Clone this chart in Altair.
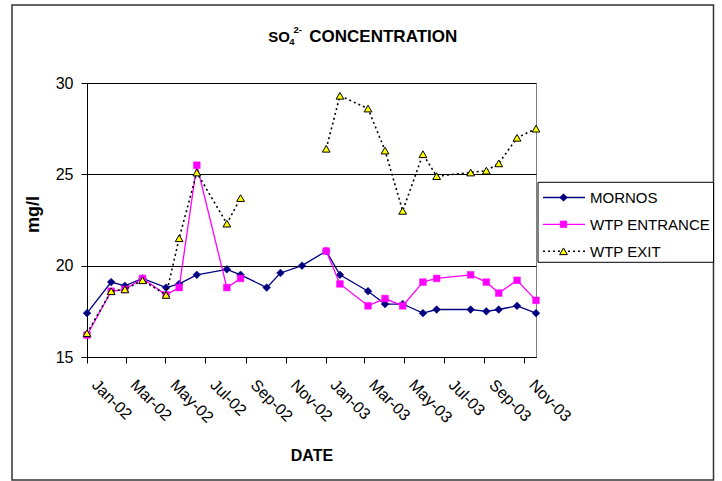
import altair as alt
import pandas as pd

# ---------------- data ----------------
dates = ["2002-01-01", "2002-02-07", "2002-02-28", "2002-03-27", "2002-05-02",
         "2002-05-22", "2002-06-18", "2002-08-03", "2002-08-24", "2002-10-03",
         "2002-10-24", "2002-11-26", "2003-01-02", "2003-01-23", "2003-03-07",
         "2003-04-02", "2003-04-29", "2003-05-30", "2003-06-20", "2003-08-11",
         "2003-09-04", "2003-09-23", "2003-10-21", "2003-11-19"]
mornos = [17.4, 19.1, 18.9, 19.3, 18.8, 19.0, 19.5, 19.8, 19.5, 18.8, 19.6, 20.0,
          20.8, 19.5, 18.6, 17.9, 17.9, 17.4, 17.6, 17.6, 17.5, 17.6, 17.8, 17.4]
wtp_entrance = [16.2, 18.6, 18.7, 19.3, 18.4, 18.8, 25.5, 18.8, 19.3, None, None, None,
                20.8, 19.0, 17.8, 18.2, 17.8, 19.1, 19.3, 19.5, 19.1, 18.5, 19.2, 18.1]
wtp_exit = [16.3, 18.6, 18.7, 19.2, 18.4, 21.5, 25.1, 22.3, 23.7, None, None, None,
            26.4, 29.3, 28.6, 26.3, 23.0, 26.1, 24.9, 25.1, 25.2, 25.6, 27.0, 27.5]
series_names = ["MORNOS", "WTP ENTRANCE", "WTP EXIT"]
y_tick_values = [15, 20, 25, 30]
x_tick_months = [(2002, 1), (2002, 3), (2002, 5), (2002, 7), (2002, 9), (2002, 11),
                 (2003, 1), (2003, 3), (2003, 5), (2003, 7), (2003, 9), (2003, 11)]
title_parts = ["SO", "4", "2-", "CONCENTRATION"]
x_title = "DATE"
y_title = "mg/l"

FONT = "Liberation Sans"
W, H = 449, 274
OX, OY = 87, 83


def px(v):
    return v - OX


def py(v):
    return v - OY


rows = []
for name, vals in zip(series_names, [mornos, wtp_entrance, wtp_exit]):
    for d, v in zip(dates, vals):
        rows.append({"date": d, "series": name, "value": v})
df = pd.DataFrame(rows)
one = pd.DataFrame({"k": [0]})

x_enc = alt.X(
    "date:T",
    scale=alt.Scale(type="utc", nice=False,
                    domain=[alt.DateTime(year=2002, month=1, date=1, utc=True),
                            alt.DateTime(year=2003, month=11, date=19, utc=True)]),
    axis=alt.Axis(values=[alt.DateTime(year=yy, month=mm, date=1, utc=True) for yy, mm in x_tick_months],
                  format="%b-%y", labelAngle=45, labelAlign="left", labelBaseline="middle",
                  labelPadding=19, labelOffset=7, tickSize=6, grid=False,
                  labelOverlap=False, labelFlush=False, labelBound=False,
                  domainColor="black", tickColor="black",
                  title=x_title, titleX=W / 2, titleY=103, titleBaseline="alphabetic",
                  titleAlign="center"),
)
y_enc = alt.Y(
    "value:Q",
    scale=alt.Scale(domain=[15, 30], nice=False, zero=False),
    axis=alt.Axis(values=y_tick_values, tickSize=6, labelPadding=8, grid=True,
                  gridColor="black", domainColor="black", tickColor="black",
                  title=y_title, titleX=-45, titleY=131, titleFontSize=18),
)

styles = {
    "MORNOS": (dict(color="#000080", strokeWidth=1.3),
               dict(shape="diamond", fill="#000080", stroke="#000080", strokeWidth=0.5, size=60)),
    "WTP ENTRANCE": (dict(color="#FF00FF", strokeWidth=1.3),
                     dict(shape="square", fill="#FF00FF", stroke="#FF00FF", strokeWidth=0.5, size=45)),
    "WTP EXIT": (dict(color="black", strokeWidth=1.6, strokeDash=[2, 3]),
                 dict(shape="triangle-up", fill="#FFFF00", stroke="black", strokeWidth=1, size=60)),
}

layers = []
# outer chart frame
layers.append(alt.Chart(one).mark_rect(fill="transparent", stroke="#333333", strokeWidth=1.5).encode(
    x=alt.value(px(12)), x2=alt.value(px(713.5)), y=alt.value(py(5)), y2=alt.value(py(480))))

for name in series_names:
    lsty, psty = styles[name]
    base = alt.Chart(df).transform_filter(alt.datum.series == name)
    layers.append(base.mark_line(invalid="break-paths-show-domains", **lsty).encode(x=x_enc, y=y_enc))
    layers.append(base.mark_point(filled=True, opacity=1, **psty).encode(x=x_enc, y=y_enc))

# legend
layers.append(alt.Chart(one).mark_rect(fill="white", stroke="black", strokeWidth=1).encode(
    x=alt.value(px(538)), x2=alt.value(px(713.5)), y=alt.value(py(182.3)), y2=alt.value(py(262.3))))
row_y = [197.5, 224.3, 251.3]
for name, ry in zip(series_names, row_y):
    lsty, psty = styles[name]
    layers.append(alt.Chart(one).mark_rule(**lsty).encode(
        x=alt.value(px(543)), x2=alt.value(px(585)), y=alt.value(py(ry))))
    layers.append(alt.Chart(one).mark_point(filled=True, opacity=1, **psty).encode(
        x=alt.value(px(563.5)), y=alt.value(py(ry))))
    layers.append(alt.Chart(pd.DataFrame({"label": [name]})).mark_text(
        align="left", baseline="middle", font=FONT, fontSize=15, color="black").encode(
        x=alt.value(px(590)), y=alt.value(py(ry + 0.5)), text="label:N"))

# title (with subscript / superscript)
title_specs = [
    (title_parts[0], 268.3, 41.5, 15),
    (title_parts[1], 289.3, 44.8, 9.5),
    (title_parts[2], 293.5, 33.0, 9.5),
    (title_parts[3], 309.3, 41.5, 17),
]
for txt, tx, ty, fs in title_specs:
    layers.append(alt.Chart(pd.DataFrame({"t": [txt]})).mark_text(
        align="left", baseline="alphabetic", font=FONT, fontSize=fs, fontWeight="bold",
        color="black").encode(x=alt.value(px(tx)), y=alt.value(py(ty)), text="t:N"))

chart = alt.layer(*layers).properties(
    width=W, height=H,
    autosize=alt.AutoSizeParams(type="none"),
    padding={"left": OX, "top": OY, "right": 722 - OX - W, "bottom": 481 - OY - H},
    background="white",
).configure_view(stroke="#808080", strokeWidth=1).configure_axis(
    labelFont=FONT, labelFontSize=16, labelColor="black",
    titleFont=FONT, titleFontSize=16, titleFontWeight="bold", titleColor="black",
)

chart.save("out.html", embed_options={"renderer": "svg", "actions": False})
